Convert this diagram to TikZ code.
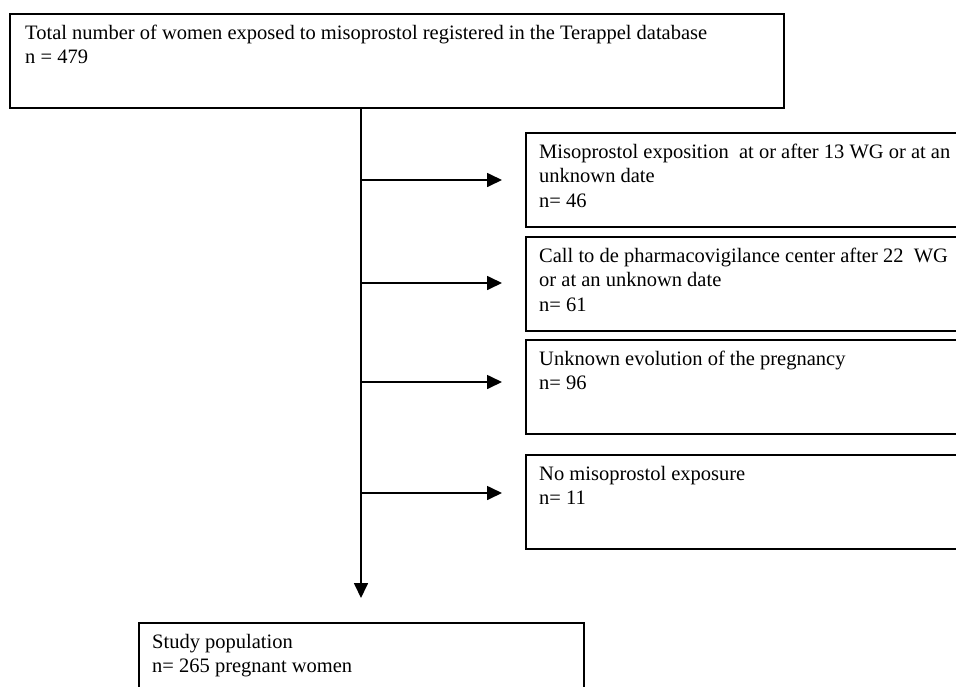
\documentclass[tikz,border=0pt]{standalone}
\usepackage{fontspec}
\setmainfont{Liberation Serif}
\usetikzlibrary{arrows.meta,calc}
\newcommand{\lines}[1]{\begin{tabular}[t]{@{}l@{}}#1\end{tabular}}
\begin{document}
\begin{tikzpicture}[x=1pt,y=-1pt,
  box/.style={draw=black,line width=1.5pt,anchor=north west,inner sep=0pt,minimum height=94pt},
  txt/.style={anchor=base west,inner sep=0pt,font=\fontsize{20.5pt}{24.5pt}\selectfont},
  arr/.style={line width=1.7pt,-{Triangle[length=15pt,width=14pt]}}]
\useasboundingbox (0,0) rectangle (956,686);
\clip (0,0) rectangle (956,686);
% boxes
\node[box,minimum width=774pt] (top) at (9,13) {};
\node[box,minimum width=460pt] (b1) at (525,132) {};
\node[box,minimum width=460pt] (b2) at (525,236) {};
\node[box,minimum width=460pt] (b3) at (525,339) {};
\node[box,minimum width=460pt] (b4) at (525,454) {};
\node[box,minimum width=445pt,minimum height=120pt] (study) at (138,622) {};
% texts
\node[txt] (ttop) at ($(top.north west)+(16,26)$) {\lines{Total number of women exposed to misoprostol registered in the Terappel database\\n = 479}};
\node[txt] (t1) at ($(b1.north west)+(14,26)$) {\lines{Misoprostol exposition\ \ at or after 13 WG or at an\\unknown date\\n= 46}};
\node[txt] (t2) at ($(b2.north west)+(14,26)$) {\lines{Call to de\ pharmacovigilance center after 22\ \ WG\\or at an unknown date\\n= 61}};
\node[txt] (t3) at ($(b3.north west)+(14,26)$) {\lines{Unknown evolution of the pregnancy\\n= 96}};
\node[txt] (t4) at ($(b4.north west)+(14,26)$) {\lines{No misoprostol exposure\\n= 11}};
\node[txt] (ts) at ($(study.north west)+(14,26)$) {\lines{Study population\\n= 265 pregnant women}};
% connectors
\coordinate (start) at (top.south -| 361,0);
\coordinate (end) at ($(study.north -| 361,0)+(0,-24)$);
\draw[arr] (start) -- (end);
\coordinate (j1) at (361,180);
\coordinate (j2) at (361,283);
\coordinate (j3) at (361,382);
\coordinate (j4) at (361,493);
\draw[arr] (j1) -- (j1 -| {$(b1.west)+(-23,0)$});
\draw[arr] (j2) -- (j2 -| {$(b2.west)+(-23,0)$});
\draw[arr] (j3) -- (j3 -| {$(b3.west)+(-23,0)$});
\draw[arr] (j4) -- (j4 -| {$(b4.west)+(-23,0)$});
\end{tikzpicture}
\end{document}
